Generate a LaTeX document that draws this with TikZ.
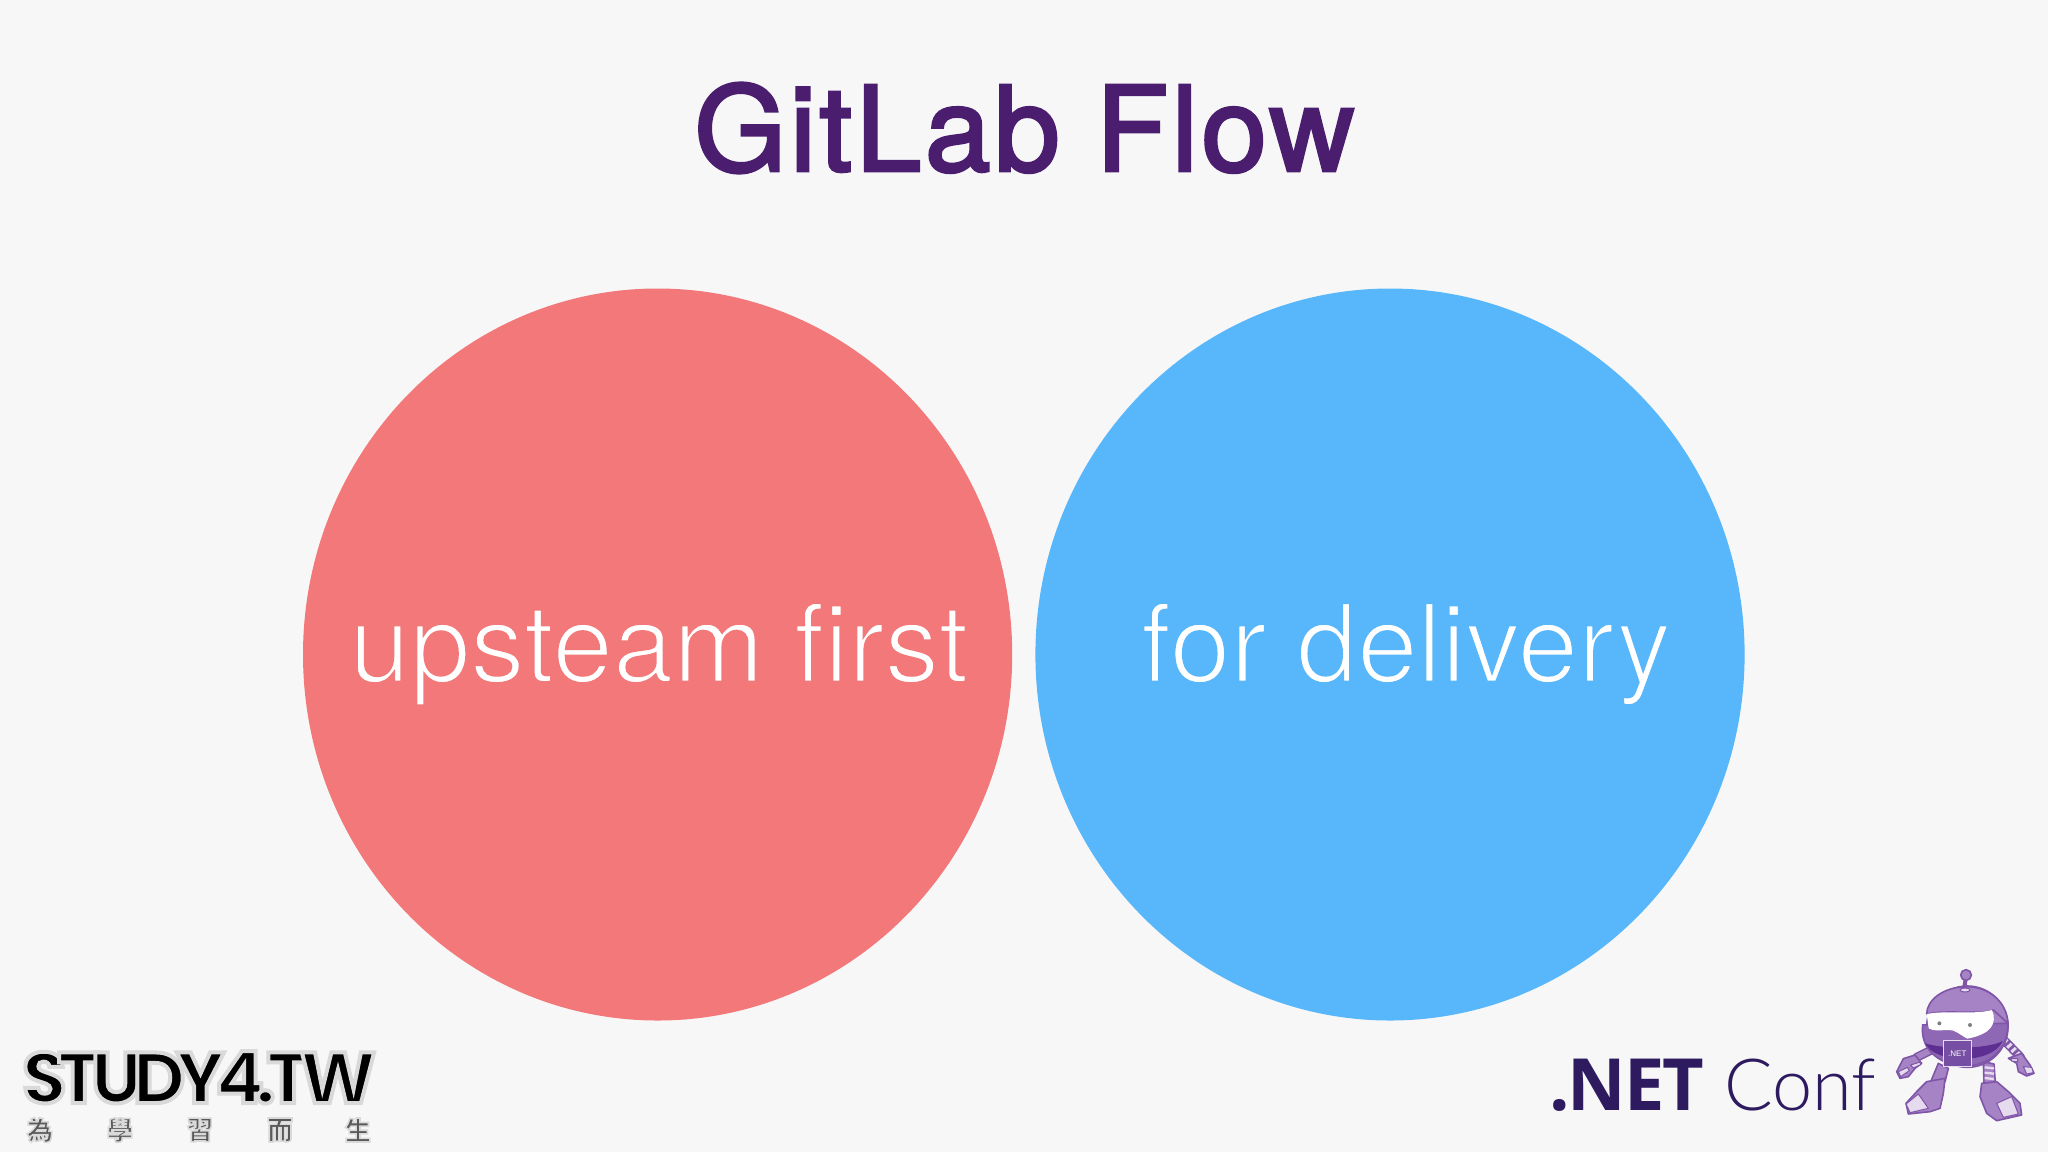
\documentclass[tikz,border=0pt]{standalone}
\usepackage{xcolor}
\usepackage{fontspec}
\usetikzlibrary{shapes.geometric}
\setmainfont{Liberation Sans}
\newfontfamily\titlefont{TeX Gyre Heros}[FakeBold=2.5,LetterSpace=3]
\newfontfamily\lightfont{Lato Light}
\newfontfamily\bodyfont{TeX Gyre Heros}[Ligatures=NoCommon,LetterSpace=-0.2]
\newfontfamily\studyfont{Poppins}[LetterSpace=-12.5]
\newfontfamily\cjkfont{Noto Sans CJK TC}
\newfontfamily\netfont{Open Sans}[LetterSpace=-3]
\definecolor{slidebg}{HTML}{F7F7F8}
\definecolor{titlepurple}{HTML}{4A1D6F}
\definecolor{upred}{HTML}{F37879}
\definecolor{delblue}{HTML}{58B6FA}
\definecolor{netpurple}{HTML}{2E1A5F}
\definecolor{botmid}{HTML}{A583C4}
\definecolor{botring}{HTML}{8F68B5}
\definecolor{botline}{HTML}{7F55A8}
\definecolor{botdark}{HTML}{5E2F93}
\definecolor{botlight}{HTML}{E6DAEE}
% outline drawn with the letters: w = width, rgb = colour
\newcommand{\rimtext}[5]{\special{pdf:code 2 Tr #1 w #2 #3 #4 RG}#5\special{pdf:code 0 Tr 1 w}}
\tikzset{
  flowcircle/.style={ellipse,minimum width=354.6pt,minimum height=366pt,inner sep=0pt},
  flowtext/.style={anchor=base,inner sep=0pt,text=white,font=\bodyfont\fontsize{54.5}{54.5}\selectfont},
  botpart/.style={fill=botmid,draw=botline,line width=0.8pt,line join=round},
  botpale/.style={fill=botlight,draw=botline,line width=0.5pt,line join=round},
}
\begin{document}
\begin{tikzpicture}[x=0.5pt,y=-0.5pt]
  \useasboundingbox (0,0) rectangle (2048,1152);
  \fill [slidebg] (0,0) rectangle (2048,1152);
  \node (title) at (1024.5,171) [anchor=base,text=titlepurple,font=\titlefont\fontsize{59}{59}\selectfont] {GitLab Flow};
  \node (upstream) at (657.6,654.5) [flowcircle,fill=upred] {};
  \node (delivery) at (1390,654.5) [flowcircle,fill=delblue] {};
  \node (upstreamtext) at (659,682) [flowtext] {\rimtext{1.5}{0.953}{0.471}{0.475}{upsteam first}};
  \node (deliverytext) at (1406,682) [flowtext] {\rimtext{1.5}{0.345}{0.714}{0.98}{for delivery}};
  % logos
  \node (study) at (199,1103) [anchor=base,inner sep=0pt,text depth=0pt,font=\studyfont\bfseries\fontsize{36}{36}\selectfont] {\rimtext{2}{0.85}{0.85}{0.85}{STUDY4.TW}};
  \foreach \n/\x/\c in {a/40/為,b/120/學,c/200/習,d/280/而,e/358/生}
  {
    \node (word\n) at (\x,1130) [inner sep=0pt,text=black!65,font=\cjkfont\bfseries\fontsize{13}{13}\selectfont] {\rimtext{0.8}{0.85}{0.85}{0.85}{\c}};
  }
  \node (net) at (1549,1110) [anchor=base west,inner sep=0pt,text=netpurple,font=\fontsize{36}{36}\selectfont] {{\netfont\bfseries .NET} {\lightfont Conf}};
  \begin{scope}[shift={(1880,960)},scale=0.3333]
    % arms
    \draw [botline,line width=4.5pt,line cap=round] (170,262) -- (110,292);
    \draw [botmid,line width=3pt,line cap=round] (170,262) -- (110,292);
    \draw [botline,line width=4.5pt,line cap=round] (360,228) -- (422,292);
    \draw [botlight,line width=3pt,dash pattern=on 1.5pt off 1.5pt] (360,228) -- (422,292);
    \fill [botpart] (50,335) -- (70,296) -- (105,285) -- (125,310) -- (105,325) -- (85,350) -- (60,355) -- cycle;
    \fill [botpart] (385,295) -- (425,280) -- (450,315) -- (462,340) -- (440,348) -- (415,335) -- (410,310) -- cycle;
    \fill [botpale] (55,335) -- (82,322) -- (88,332) -- (62,350) -- cycle;
    \fill [botpale] (92,315) -- (120,306) -- (122,314) -- (100,324) -- cycle;
    \fill [botpale] (430,320) -- (455,322) -- (460,338) -- (440,342) -- cycle;
    \fill [botpale] (392,296) -- (412,296) -- (414,305) -- (396,304) -- cycle;
    % legs
    \fill [botpart] (175,310) -- (205,325) -- (195,365) -- (150,370) -- cycle;
    \fill [botpart] (310,305) -- (342,312) -- (346,370) -- (312,372) -- cycle;
    \foreach \y in {322,338,354}
    {
      \draw [botlight,line width=1.2pt] (314,\y) -- (342,\y+3);
    }
    \fill [botpart] (140,365) -- (195,355) -- (190,400) -- (180,445) -- (150,455) -- (85,462) -- (78,430) -- (110,395) -- cycle;
    \fill [botpart] (305,370) -- (350,365) -- (385,395) -- (420,430) -- (425,465) -- (350,482) -- (320,460) -- (300,410) -- cycle;
    \fill [botpale] (78,432) -- (115,402) -- (145,445) -- (90,458) -- cycle;
    \fill [botpale] (350,430) -- (395,410) -- (415,462) -- (370,472) -- cycle;
    % head
    \fill [botpart] (262,200) circle [radius=122];
    \fill [botring,draw=botline,line width=0.8pt] (128,195) .. controls (118,275) and (190,318) .. (255,318) .. controls (325,318) and (385,270) .. (384,190) -- cycle;
    \fill [botpart] (140,162) .. controls (200,148) and (300,165) .. (340,150) -- (384,190) .. controls (380,120) and (320,80) .. (262,80) .. controls (190,80) and (140,120) .. (140,162) -- cycle;
    \fill [white] (140,162) .. controls (200,150) and (280,165) .. (336,150) .. controls (352,190) and (335,222) .. (262,236) .. controls (240,225) and (225,208) .. (205,210) .. controls (185,210) and (160,215) .. (146,205) -- cycle;
    \fill [black!50] (178,190) circle [radius=6];
    \fill [black!50] (270,195) circle [radius=6];
    % belt and badge
    \fill [botdark] (136,250) .. controls (190,268) and (320,268) .. (368,243) .. controls (352,280) and (300,295) .. (255,297) .. controls (200,297) and (150,282) .. (136,250) -- cycle;
    \node (badge) at (232,281) [minimum width=14pt,minimum height=13pt,inner sep=0pt,fill=botdark!85!white,draw=botlight,line width=0.4pt,text=white,font=\fontsize{4}{4}\selectfont] {.NET};
    % antenna
    \draw [botline,line width=2pt] (258,50) -- (252,88);
    \fill [botpart] (258,45) circle [radius=16];
    \fill [botpale] (255,90) ellipse [x radius=15,y radius=6];
  \end{scope}
\end{tikzpicture}
\end{document}
